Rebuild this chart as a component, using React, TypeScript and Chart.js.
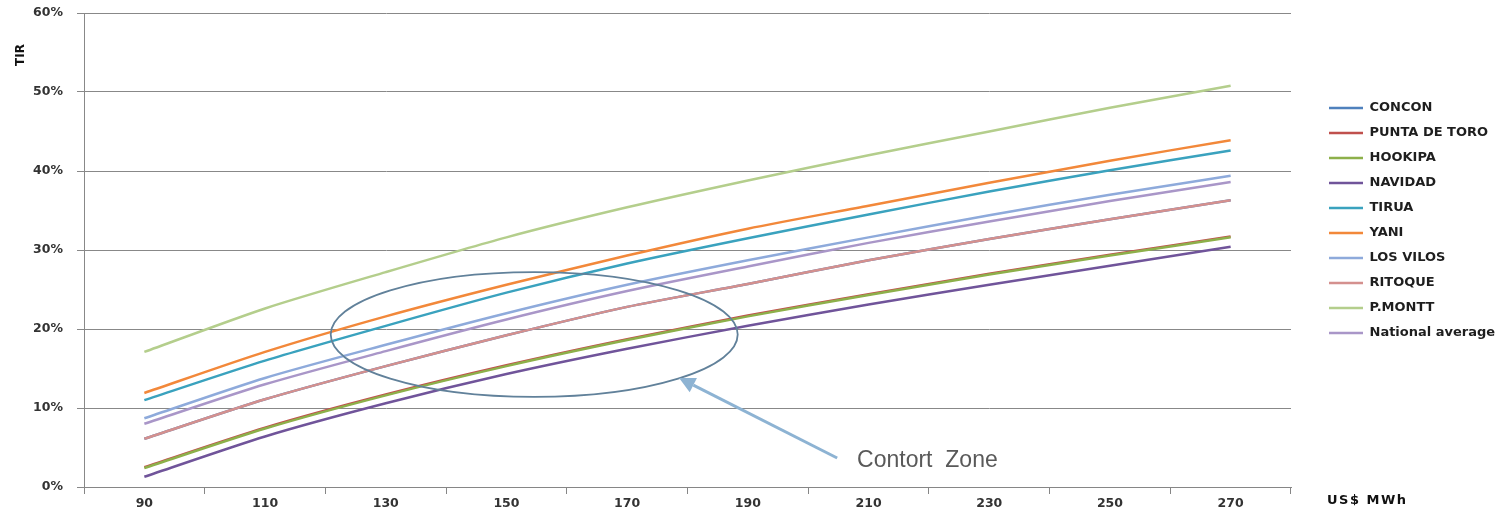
import React, { useEffect, useRef } from "react";
import { Chart, registerables } from "chart.js";

Chart.register(...registerables);

const categories = ["90", "110", "130", "150", "170", "190", "210", "230", "250", "270"];
const yTickValues = [0, 10, 20, 30, 40, 50, 60];

const concon = [6.1, 11.1, 15.3, 19.2, 22.8, 25.7, 28.7, 31.4, 33.9, 36.3];
const puntaDeToro = [2.5, 7.5, 11.7, 15.4, 18.7, 21.7, 24.4, 27.0, 29.4, 31.7];
const hookipa = [2.4, 7.4, 11.6, 15.3, 18.6, 21.6, 24.3, 26.9, 29.3, 31.6];
const navidad = [1.3, 6.4, 10.6, 14.3, 17.5, 20.4, 23.1, 25.6, 28.0, 30.4];
const tirua = [11.0, 16.0, 20.4, 24.6, 28.3, 31.5, 34.5, 37.4, 40.1, 42.6];
const yani = [11.9, 17.1, 21.6, 25.6, 29.3, 32.7, 35.6, 38.5, 41.3, 43.9];
const losVilos = [8.7, 13.8, 18.0, 22.0, 25.6, 28.7, 31.6, 34.4, 37.0, 39.4];
const ritoque = [6.1, 11.1, 15.3, 19.2, 22.8, 25.7, 28.7, 31.4, 33.9, 36.3];
const pMontt = [17.1, 22.6, 27.2, 31.6, 35.4, 38.8, 42.0, 45.0, 48.0, 50.8];
const nationalAverage = [8.0, 13.0, 17.2, 21.2, 24.8, 27.9, 30.9, 33.6, 36.2, 38.6];

const seriesNames = [
  "CONCON",
  "PUNTA DE TORO",
  "HOOKIPA",
  "NAVIDAD",
  "TIRUA",
  "YANI",
  "LOS VILOS",
  "RITOQUE",
  "P.MONTT",
  "National average",
];
const seriesValues = [concon, puntaDeToro, hookipa, navidad, tirua, yani, losVilos, ritoque, pMontt, nationalAverage];
const seriesColors = [
  "#4F81BD",
  "#C0504D",
  "#8DB04A",
  "#70549A",
  "#3AA2BE",
  "#F2883A",
  "#8EAADB",
  "#D4908E",
  "#B4CE8C",
  "#A996C8",
];

const annotationText = "Contort  Zone";
const yAxisTitle = "TIR";
const xAxisTitle = "US$ MWh";

const FONT = "'DejaVu Sans', sans-serif";

const annotationPlugin = {
  id: "annotations",
  afterDatasetsDraw(chart: any) {
    const { ctx, scales } = chart;
    const x = scales.x;
    const y = scales.y;
    ctx.save();
    // ellipse (comfort zone)
    const cx = x.getPixelForValue(3.23);
    const cy = y.getPixelForValue(19.3);
    const rx = x.getPixelForValue(3.23 + 1.686) - cx;
    const ry = cy - y.getPixelForValue(19.3 + 7.9);
    ctx.beginPath();
    ctx.ellipse(cx, cy, rx, ry, 0, 0, Math.PI * 2);
    ctx.strokeStyle = "#61819A";
    ctx.lineWidth = 1.8;
    ctx.stroke();

    // arrow
    const tx = x.getPixelForValue(5.74);
    const ty = y.getPixelForValue(3.67);
    const hx = x.getPixelForValue(4.43);
    const hy = y.getPixelForValue(13.8);
    const ang = Math.atan2(hy - ty, hx - tx);
    const headLen = 16;
    const headHalf = 8;
    const bx = hx - Math.cos(ang) * headLen;
    const by = hy - Math.sin(ang) * headLen;
    ctx.beginPath();
    ctx.moveTo(tx, ty);
    ctx.lineTo(bx, by);
    ctx.strokeStyle = "#8DB3D3";
    ctx.lineWidth = 3;
    ctx.stroke();
    ctx.beginPath();
    ctx.moveTo(hx, hy);
    ctx.lineTo(bx + Math.sin(ang) * headHalf, by - Math.cos(ang) * headHalf);
    ctx.lineTo(bx - Math.sin(ang) * headHalf, by + Math.cos(ang) * headHalf);
    ctx.closePath();
    ctx.fillStyle = "#8DB3D3";
    ctx.fill();

    // text
    ctx.font = "23px 'Liberation Sans', Arial, sans-serif";
    ctx.fillStyle = "#595959";
    ctx.textAlign = "left";
    ctx.textBaseline = "alphabetic";
    ctx.fillText(annotationText, x.getPixelForValue(5.905), y.getPixelForValue(2.53));
    ctx.restore();
  },
  afterDraw(chart: any) {
    const { ctx, chartArea } = chart;
    ctx.save();
    ctx.fillStyle = "#111";
    ctx.font = "bold 12px " + FONT;
    ctx.textAlign = "center";
    ctx.textBaseline = "middle";
    ctx.translate(chartArea.left - 63, chartArea.top + 42);
    ctx.rotate(-Math.PI / 2);
    ctx.fillText(yAxisTitle, 0, 0);
    ctx.restore();

    ctx.save();
    ctx.fillStyle = "#111";
    ctx.font = "bold 13px " + FONT;
    try {
      (ctx as any).letterSpacing = "1.5px";
    } catch (e) {}
    ctx.textAlign = "left";
    ctx.textBaseline = "middle";
    ctx.fillText(xAxisTitle, chartArea.right + 36, chartArea.bottom + 14);
    ctx.restore();
  },
};

export default function App() {
  const canvasRef = useRef<HTMLCanvasElement | null>(null);

  useEffect(() => {
    const canvas = canvasRef.current;
    if (!canvas) return;
    const datasets = seriesNames.map((name, i) => ({
      label: name,
      data: seriesValues[i],
      borderColor: seriesColors[i],
      backgroundColor: seriesColors[i],
      borderWidth: 2.5,
      pointRadius: 0,
      pointHoverRadius: 0,
      tension: 0.25,
      fill: false,
      order: seriesNames.length - i,
    }));

    const tickFont = { family: FONT, size: 12.5, weight: "bold" as const };

    const chart = new Chart(canvas, {
      type: "line",
      data: { labels: categories, datasets },
      options: {
        animation: false,
        responsive: false,
        maintainAspectRatio: false,
        layout: { padding: { top: 13, right: 10, left: 0, bottom: 0 } },
        plugins: {
          tooltip: { enabled: false },
          legend: {
            display: true,
            position: "right",
            align: "start",
            title: {
              display: true,
              text: " ",
              font: { size: 10, lineHeight: 1 },
              padding: { top: 66.5, bottom: 0 },
            },
            labels: {
              usePointStyle: true,
              pointStyle: "line",
              pointStyleWidth: 34,
              boxHeight: 13,
              padding: 12,
              color: "#1E1E1E",
              font: { family: FONT, size: 13, weight: "bold" },
              sort: (a: any, b: any) => a.datasetIndex - b.datasetIndex,
            },
          },
        },
        scales: {
          x: {
            type: "category",
            offset: true,
            grid: {
              offset: true,
              drawOnChartArea: false,
              drawTicks: true,
              tickLength: 7,
              color: "#868686",
            },
            border: { display: true, color: "#868686", width: 1 },
            ticks: {
              autoSkip: false,
              maxRotation: 0,
              padding: 2,
              color: "#333333",
              font: tickFont,
            },
            afterFit: (s: any) => {
              s.height = 26;
              s.paddingLeft = 0;
              s.paddingRight = 0;
            },
          },
          y: {
            type: "linear",
            position: "left",
            min: yTickValues[0],
            max: yTickValues[yTickValues.length - 1],
            afterBuildTicks: (s: any) => {
              s.ticks = yTickValues.map((v) => ({ value: v }));
            },
            grid: {
              color: "#888888",
              lineWidth: 1,
              drawTicks: true,
              tickLength: 7,
            },
            border: { display: true, color: "#888888", width: 1 },
            ticks: {
              padding: 14,
              color: "#333333",
              font: tickFont,
              callback: (v: any) => v + "%",
            },
            afterFit: (s: any) => {
              s.width = 84;
              s.paddingTop = 0;
              s.paddingBottom = 0;
            },
          },
          yR: {
            type: "linear",
            position: "right",
            display: true,
            grid: { display: false, drawTicks: false },
            border: { display: false },
            ticks: { display: false },
            afterFit: (s: any) => {
              s.width = 26;
              s.paddingTop = 0;
              s.paddingBottom = 0;
            },
          },
        },
      },
      plugins: [annotationPlugin],
    } as any);

    // adjust right padding so the plot area ends where the reference's does
    const pad = (chart.options as any).layout.padding;
    const dRight = chart.chartArea.right - 1291;
    if (Math.abs(dRight) > 0.5) {
      pad.right = pad.right + dRight;
      chart.update();
    }

    return () => {
      chart.destroy();
    };
  }, []);

  return (
    <div style={{ position: "absolute", left: 0, top: 0, width: 1509, height: 513, background: "#fff" }}>
      <canvas ref={canvasRef} width={1509} height={513} style={{ display: "block", width: 1509, height: 513 }} />
    </div>
  );
}
